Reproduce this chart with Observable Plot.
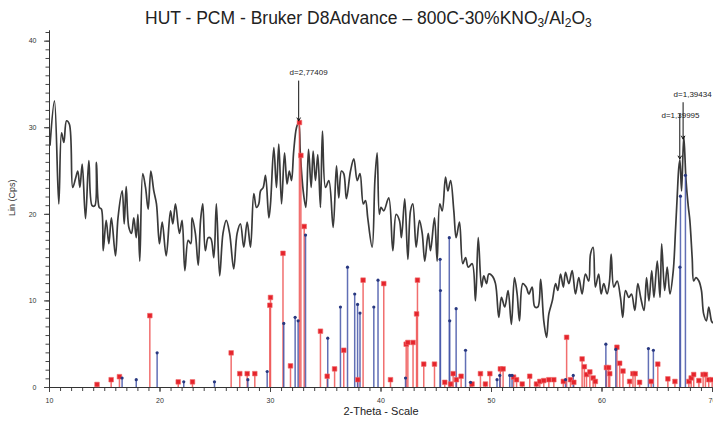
<!DOCTYPE html>
<html>
<head>
<meta charset="utf-8">
<script src="https://cdn.jsdelivr.net/npm/d3@7"></script>
<script src="https://cdn.jsdelivr.net/npm/@observablehq/plot@0.6"></script>
<style>
  body { margin: 0; background: #fff; font-family: "Liberation Sans", Arial, sans-serif; }
  #wrap { width: 713px; height: 421px; position: relative; overflow: hidden; }
  #title { position: relative; height: 26px; }
  #title span { position: absolute; left: 145px; top: 8px; font-size: 17.5px; line-height: 20px; color: #222; white-space: nowrap; }
  #title sub { font-size: 12px; vertical-align: -3px; line-height: 0; }
  svg { display: block; }
</style>
</head>
<body>
<div id="wrap">
  <div id="title"><span>HUT - PCM - Bruker D8Advance – 800C-30%KNO<sub>3</sub>/Al<sub>2</sub>O<sub>3</sub></span></div>
  <div id="chart"></div>
</div>
<script>
// Measured scan: 2-theta (deg) and linear counts
const scanTheta = [
  10.05, 10.45, 10.84, 11.09, 11.3, 11.54, 11.8, 12.1, 12.35, 12.56, 12.75, 12.96, 13.26, 13.56, 13.86, 14.1,
  14.25, 14.5, 14.7, 14.86, 15.13, 15.37, 15.6, 15.97, 16.2, 16.58, 16.76, 16.94, 17.18, 17.42, 17.63, 17.85,
  18.0, 18.17, 18.44, 18.69, 18.93, 19.17, 19.44, 19.68, 19.95, 20.2, 20.56, 20.95, 21.16, 21.4, 21.76, 22.0,
  22.25, 22.55, 22.79, 22.9, 23.2, 23.46, 23.67, 23.87, 24.1, 24.36, 24.6, 24.87, 25.1, 25.4, 25.7, 26.0,
  26.3, 26.67, 26.98, 27.28, 27.58, 27.89, 28.19, 28.49, 28.73, 28.94, 29.1, 29.34, 29.55, 29.85, 30.0, 30.3,
  30.54, 30.75, 31.0, 31.27, 31.5, 31.7, 31.9, 32.1, 32.35, 32.55, 32.7, 32.96, 33.2, 33.44, 33.68, 33.86,
  34.07, 34.28, 34.52, 34.7, 34.98, 35.28, 35.67, 35.97, 36.18, 36.42, 36.63, 36.87, 37.24, 37.54, 37.85, 38.1,
  38.4, 38.6, 38.8, 39.2, 39.45, 39.65, 39.85, 40.0, 40.25, 40.7, 41.07, 41.37, 41.67, 41.85, 42.15, 42.43,
  42.67, 42.88, 43.18, 43.48, 43.73, 43.96, 44.27, 44.48, 44.84, 45.08, 45.32, 45.54, 45.84, 46.05, 46.3, 46.59,
  46.8, 47.1, 47.4, 47.65, 47.9, 48.25, 48.55, 48.8, 49.1, 49.3, 49.55, 49.76, 50.06, 50.36, 50.66, 50.9,
  51.2, 51.5, 51.8, 52.08, 52.32, 52.53, 52.83, 53.14, 53.38, 53.68, 53.92, 54.2, 54.45, 54.73, 54.98, 55.19,
  55.5, 55.8, 56.0, 56.25, 56.5, 56.7, 57.0, 57.3, 57.6, 57.9, 58.2, 58.5, 58.8, 58.96, 59.2, 59.4,
  59.7, 59.92, 60.16, 60.46, 60.68, 60.83, 61.07, 61.37, 61.67, 61.88, 62.13, 62.43, 62.67, 62.97, 63.24, 63.5,
  63.8, 64.03, 64.25, 64.5, 64.7, 65.0, 65.25, 65.4, 65.67, 65.9, 66.15, 66.45, 66.65, 66.8, 66.95, 67.05,
  67.2, 67.4, 67.6, 67.8, 67.95, 68.16, 68.3, 68.5, 68.77, 69.0, 69.2, 69.45, 69.66, 69.9, 70.0
];
const scanCounts = [
  28.0, 33.1, 21.2, 29.4, 28.3, 30.8, 30.4, 23.1, 24.1, 25.0, 23.1, 25.8, 19.5, 26.2, 21.0, 21.0,
  26.0, 20.8, 20.6, 15.8, 19.3, 16.6, 19.6, 15.2, 19.6, 22.7, 18.9, 23.2, 18.5, 17.8, 19.6, 17.3,
  20.0, 14.6, 24.7, 23.1, 20.6, 25.0, 22.7, 21.2, 16.6, 19.1, 15.2, 20.4, 18.9, 21.2, 17.8, 19.3,
  13.5, 17.0, 16.6, 19.6, 17.8, 14.1, 19.3, 21.2, 15.8, 17.3, 17.2, 15.0, 21.2, 12.9, 17.8, 19.3,
  17.8, 13.7, 17.8, 18.9, 16.2, 19.1, 16.2, 22.4, 20.8, 21.2, 22.7, 23.1, 24.5, 19.6, 21.2, 27.7,
  23.1, 28.1, 21.2, 27.1, 23.5, 25.0, 23.9, 27.3, 30.0, 30.6, 27.0, 22.7, 20.8, 27.5, 23.1, 27.3,
  23.9, 26.9, 20.8, 29.6, 23.1, 23.9, 18.5, 25.6, 21.9, 25.0, 24.7, 21.8, 25.0, 26.4, 23.9, 24.7,
  21.2, 21.6, 19.6, 16.2, 24.0, 27.1, 20.0, 20.8, 20.4, 21.9, 15.8, 20.0, 19.3, 17.3, 21.8, 14.8,
  20.4, 21.2, 16.2, 19.3, 17.8, 14.6, 17.8, 15.8, 19.6, 14.6, 21.2, 20.4, 24.3, 22.7, 23.9, 20.4,
  17.3, 19.1, 14.3, 15.0, 13.9, 14.3, 10.0, 17.3, 11.6, 12.9, 12.0, 13.1, 12.9, 12.0, 8.1, 10.4,
  9.3, 11.2, 7.3, 12.7, 10.8, 7.7, 12.0, 11.6, 10.8, 11.6, 9.3, 9.3, 12.5, 7.7, 5.8, 8.5,
  10.0, 12.0, 11.2, 13.1, 11.6, 13.3, 12.0, 13.5, 10.8, 12.7, 10.8, 13.1, 12.3, 15.4, 16.2, 11.6,
  13.1, 10.8, 12.0, 10.8, 12.3, 15.4, 11.6, 12.3, 10.4, 8.1, 11.2, 10.4, 10.8, 8.9, 12.0, 10.4,
  8.9, 12.7, 10.0, 13.5, 10.4, 14.6, 10.4, 16.6, 11.2, 13.9, 10.8, 13.5, 18.1, 21.9, 25.4, 26.3,
  22.7, 29.0, 24.0, 21.0, 19.3, 15.0, 12.3, 12.7, 12.3, 11.2, 8.5, 7.7, 9.3, 7.7, 7.5
];

// Reference pattern 1 (red sticks)
const redTheta = [
  14.3, 15.58, 16.33, 19.08, 21.65, 22.94, 26.44, 27.22, 27.89, 28.58, 29.94, 30.0, 31.13, 31.81, 32.62, 32.75,
  33.05, 34.52, 35.13, 35.8, 36.63, 37.9, 38.38, 40.25, 40.86, 42.28, 42.43, 42.9, 43.22, 43.3, 43.87, 44.84,
  45.77, 46.3, 46.53, 46.83, 47.25, 48.24, 49.0, 49.45, 49.85, 50.8, 51.05, 52.0, 52.27, 52.78, 53.46, 54.07,
  54.37, 54.73, 55.19, 55.64, 56.5, 56.8, 57.15, 57.45, 58.2, 58.4, 58.6, 58.9, 59.2, 59.4, 60.4, 60.6,
  60.7, 61.35, 61.6, 61.9, 62.5, 62.8, 63.0, 63.4, 64.45, 65.05, 65.96, 66.6, 67.86, 68.07, 68.3, 68.77,
  69.15, 69.36, 69.66, 69.97
];
const redIntensity = [
  0.35, 0.9, 1.25, 8.3, 0.65, 0.65, 4.0, 1.6, 1.6, 1.6, 9.5, 10.4, 15.5, 2.5, 30.6, 26.8,
  18.6, 6.5, 1.3, 2.15, 4.3, 0.9, 12.4, 12.0, 0.9, 5.0, 5.2, 5.2, 8.5, 12.4, 2.7, 2.7,
  0.6, 0.4, 1.6, 0.9, 1.3, 0.4, 1.6, 0.4, 1.6, 2.15, 2.15, 1.2, 0.9, 0.4, 1.3, 0.4,
  0.7, 0.8, 0.9, 0.9, 0.7, 5.8, 0.9, 0.6, 3.3, 2.4, 1.5, 1.8, 1.1, 0.7, 2.3, 2.3,
  1.6, 4.65, 2.8, 1.9, 0.7, 1.6, 1.6, 0.6, 0.7, 2.7, 1.0, 0.7, 0.7, 1.1, 1.5, 0.8,
  1.5, 1.5, 0.9, 0.9
];

// Reference pattern 2 (blue sticks)
const blueTheta = [
  16.57, 17.85, 19.74, 22.15, 24.93, 27.95, 29.7, 31.2, 32.23, 32.5, 33.17, 35.18, 36.33, 36.97, 37.62, 37.88,
  38.1, 39.35, 39.73, 42.22, 45.35, 45.38, 46.18, 46.22, 46.8, 47.65, 48.1, 50.5, 50.75, 51.65, 51.86, 56.7,
  57.4, 60.35, 61.25, 64.2, 64.65, 67.05, 67.1, 67.55
];
const blueIntensity = [
  1.1, 0.9, 4.0, 0.65, 0.65, 0.9, 1.85, 7.4, 8.1, 7.7, 17.6, 5.7, 9.3, 13.9, 10.8, 9.6,
  8.6, 9.3, 12.4, 1.1, 14.8, 11.2, 17.3, 7.7, 9.1, 4.3, 0.6, 0.9, 1.4, 1.4, 1.4, 0.9,
  1.4, 5.0, 4.4, 4.5, 4.3, 13.9, 22.1, 24.5
];

// Axis ticks
const xTicks = [10, 20, 30, 40, 50, 60, 70];
const yTicks = [0, 10, 20, 30, 40];

// d-spacing call-outs
const peakLabels = ["d=2,77409", "d=1,39434", "d=1,39995"];
const peakLabelTheta = [33.45, 68.2, 67.1];
const peakLabelCounts = [36.4, 33.8, 31.4];
const arrowTheta = [32.55, 67.34, 67.04];
const arrowFrom = [35.4, 32.9, 31.6];
const arrowTo = [30.8, 28.7, 26.4];

const nScan = scanTheta.length;

const chart = Plot.plot({
  width: 713,
  height: 395,
  marginLeft: 49,
  marginRight: 1,
  marginTop: 6,
  marginBottom: 34,
  x: { domain: [10, 70] },
  y: { domain: [0, 41] },
  style: { fontFamily: "'Liberation Sans', Arial, sans-serif", color: "#333", background: "#fff", overflow: "visible" },
  marks: [
    // minor ticks
    Plot.axisY({ ticks: d3.range(0, 42, 1), tickSize: 3.5, text: null, label: null, stroke: "#444" }),
    Plot.axisX({ ticks: d3.range(10, 71, 1), tickSize: 4, text: null, label: null, stroke: "#444" }),
    // major ticks + labels
    Plot.axisY({ ticks: yTicks, tickSize: 5, tickPadding: 8, fontSize: 7, label: null, stroke: "#444" }),
    Plot.axisX({ ticks: xTicks, tickSize: 5, tickPadding: 6, fontSize: 7, label: null, stroke: "#444" }),
    Plot.ruleX([10], { y1: 0, y2: 41.2, stroke: "#333" }),
    Plot.ruleY([0], { stroke: "#333" }),
    Plot.text(["Lin (Cps)"], { frameAnchor: "left", dx: -37, dy: 6, rotate: -90, fontSize: 9, fill: "#333" }),
    Plot.text(["2-Theta - Scale"], { frameAnchor: "bottom", dy: 27, fontSize: 11, fill: "#222" }),

    // measured scan
    Plot.line({ length: nScan }, { x: scanTheta, y: scanCounts, stroke: "#3a3a3a", strokeWidth: 1.7, curve: "catmull-rom" }),

    // reference sticks
    Plot.ruleX({ length: redTheta.length }, { x: redTheta, y1: 0, y2: redIntensity, stroke: "#ee4a4a", strokeOpacity: 0.8, strokeWidth: 1.5 }),
    Plot.ruleX({ length: blueTheta.length }, { x: blueTheta, y1: 0, y2: blueIntensity, stroke: "#4556a8", strokeOpacity: 0.85, strokeWidth: 1.5 }),
    Plot.dot({ length: redTheta.length }, { x: redTheta, y: redIntensity, symbol: "square", r: 2.6, fill: "#e5242c", stroke: "#f06a6a", strokeWidth: 0.6 }),
    Plot.dot({ length: blueTheta.length }, { x: blueTheta, y: blueIntensity, r: 1.6, fill: "#283880" }),

    // call-outs
    Plot.arrow({ length: 3 }, { x1: arrowTheta, x2: arrowTheta, y1: arrowFrom, y2: arrowTo, stroke: "#111", strokeWidth: 1, headLength: 5 }),
    Plot.text({ length: 3 }, { x: peakLabelTheta, y: peakLabelCounts, text: peakLabels, fontSize: 8, fill: "#222" })
  ]
});

document.getElementById("chart").appendChild(chart);
</script>
</body>
</html>
